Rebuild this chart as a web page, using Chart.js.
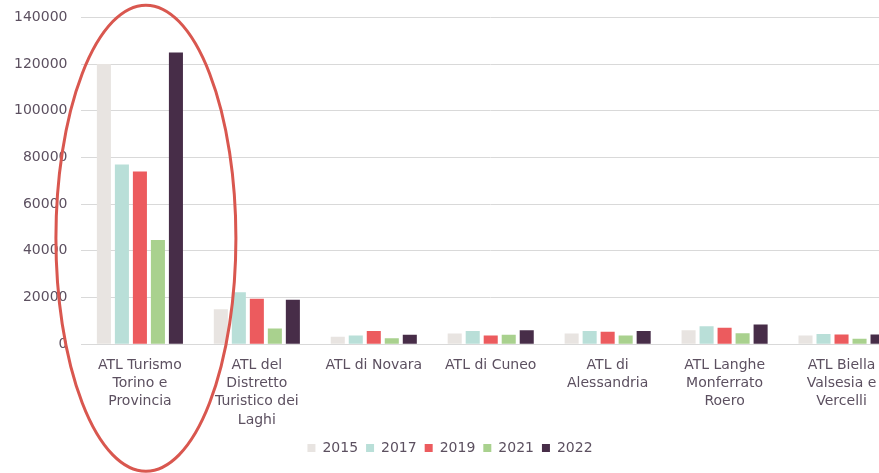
<!DOCTYPE html>
<html>
<head>
<meta charset="utf-8">
<script src="https://cdn.jsdelivr.net/npm/chart.js@4/dist/chart.umd.min.js"></script>
<style>
  html, body { margin: 0; padding: 0; background: #fff; overflow: hidden; }
  #wrap { width: 922px; height: 479px; margin-top: -5px; position: relative; }
</style>
</head>
<body>
<div id="wrap"><canvas id="chart"></canvas></div>
<script>
// Categories (ATL areas) and yearly values
const categories = [
    ['ATL Turismo', 'Torino e', 'Provincia'],
    ['ATL del', 'Distretto', 'Turistico dei', 'Laghi'],
    ['ATL di Novara'],
    ['ATL di Cuneo'],
    ['ATL di', 'Alessandria'],
    ['ATL Langhe', 'Monferrato', 'Roero'],
    ['ATL Biella', 'Valsesia e', 'Vercelli']
];
const years = ['2015', '2017', '2019', '2021', '2022'];
const values2015 = [120000, 15000, 3200, 4600, 4600, 6000, 3700];
const values2017 = [77000, 22300, 3700, 5700, 5700, 7700, 4400];
const values2019 = [74000, 19500, 5700, 3700, 5300, 7000, 4200];
const values2021 = [44600, 6700, 2600, 4000, 3700, 4700, 2300];
const values2022 = [125000, 19000, 4000, 6000, 5700, 8400, 4200];
const yTicks = [0, 20000, 40000, 60000, 80000, 100000, 120000, 140000];

const colors = ['#e8e4e1', '#b9dfd8', '#ec5b5e', '#a9d18e', '#472d48'];
const textColor = '#5c5060';
const font = "'DejaVu Sans', sans-serif";

// Red ellipse drawn round the first group
const ellipsePlugin = {
    id: 'ellipse',
    afterDraw(chart) {
        const ctx = chart.ctx;
        const x = chart.scales.x.getPixelForValue(0) + 6;
        const y = chart.scales.y.getPixelForValue(0) - 106;
        ctx.save();
        ctx.strokeStyle = '#d9574f';
        ctx.lineWidth = 3;
        ctx.beginPath();
        ctx.ellipse(x, y, 90, 233, 0, 0, Math.PI * 2);
        ctx.stroke();
        ctx.restore();
    }
};

const allValues = [values2015, values2017, values2019, values2021, values2022];

new Chart(document.getElementById('chart'), {
    type: 'bar',
    data: {
        labels: categories,
        datasets: years.map((year, i) => ({
            label: year,
            data: allValues[i],
            backgroundColor: colors[i],
            borderWidth: 0,
            categoryPercentage: 0.77,
            barPercentage: 0.78
        }))
    },
    options: {
        responsive: true,
        maintainAspectRatio: false,
        animation: false,
        layout: { padding: { top: 0, right: 22, bottom: 9, left: 0 } },
        scales: {
            x: {
                grid: { display: false },
                border: { color: '#d9d9d9', width: 1 },
                ticks: {
                    color: textColor,
                    font: { family: font, size: 14, lineHeight: 1.3 },
                    maxRotation: 0,
                    autoSkip: false,
                    padding: 4
                }
            },
            y: {
                min: 0,
                max: 140000,
                afterBuildTicks: axis => { axis.ticks = yTicks.map(v => ({ value: v })); },
                grid: { color: '#d9d9d9', drawTicks: false },
                border: { display: false },
                ticks: {
                    color: textColor,
                    font: { family: font, size: 14 },
                    padding: 14,
                    callback: v => String(v)
                }
            }
        },
        plugins: {
            legend: {
                position: 'bottom',
                labels: {
                    color: textColor,
                    font: { family: font, size: 14 },
                    boxWidth: 8,
                    boxHeight: 8,
                    padding: 8
                }
            },
            tooltip: { enabled: false }
        }
    },
    plugins: [ellipsePlugin]
});
</script>
</body>
</html>
